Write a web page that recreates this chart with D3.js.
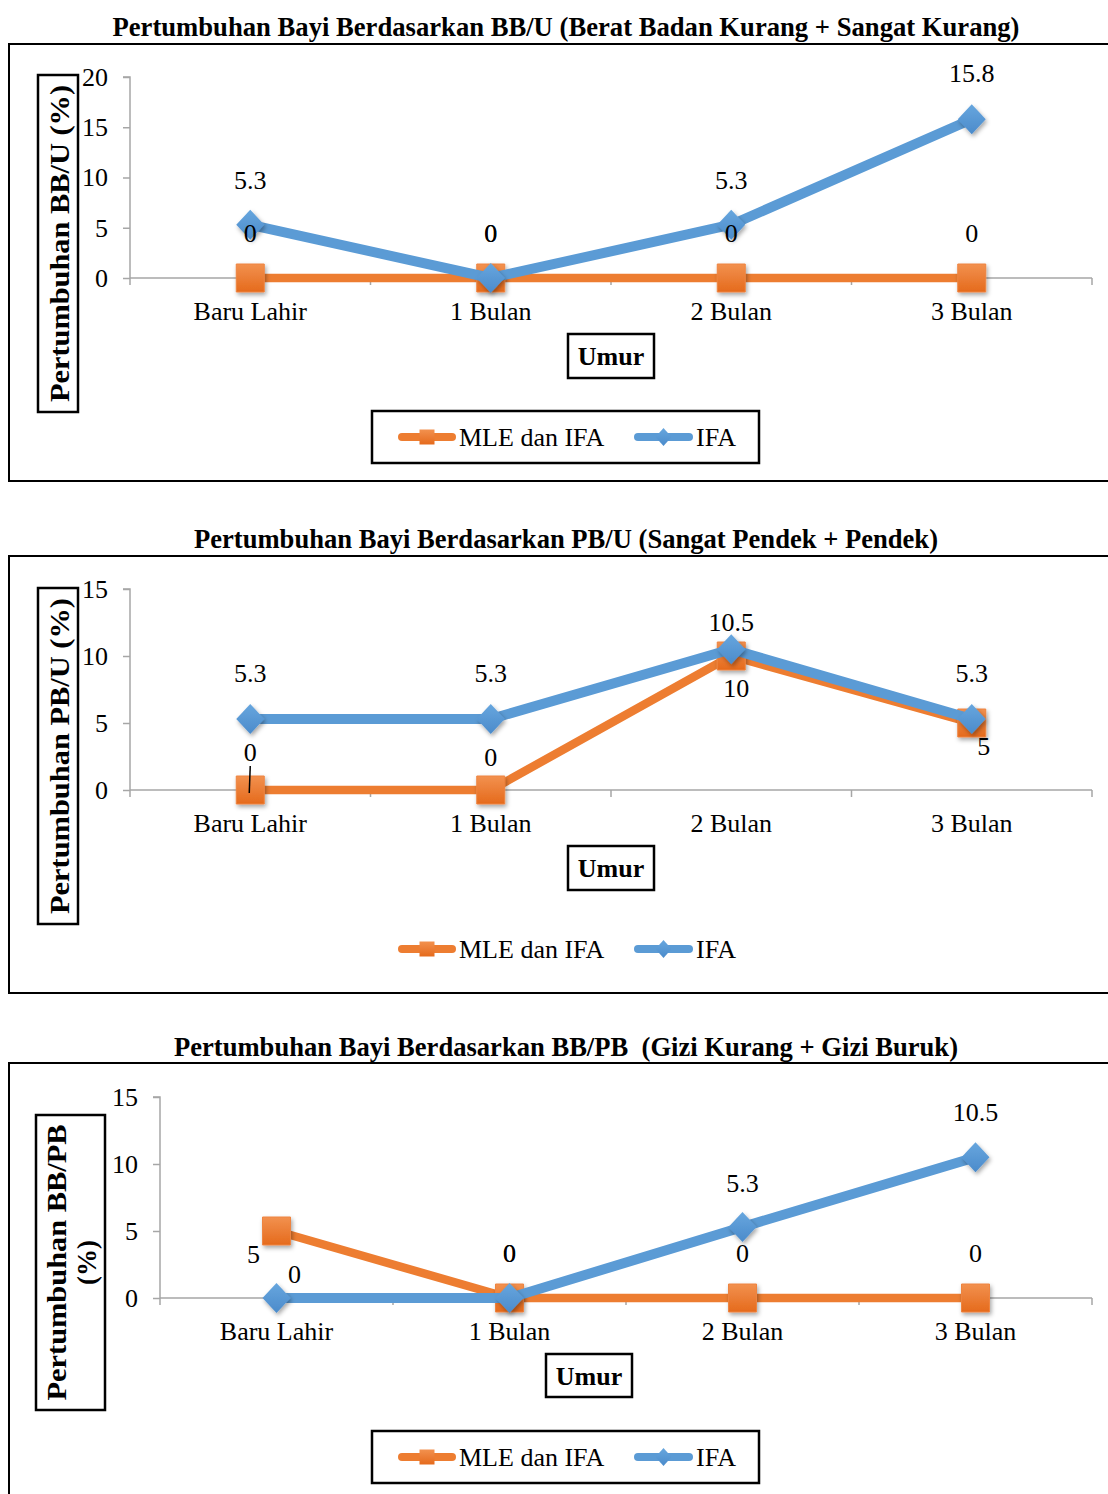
<!DOCTYPE html>
<html><head><meta charset="utf-8">
<script src="https://cdn.jsdelivr.net/npm/d3@7/dist/d3.min.js"></script>
<style>html,body{margin:0;padding:0;background:#fff;}svg{display:block;}</style>
</head><body>
<svg id="chart" width="1108" height="1494"></svg>
<script>
// ---------- DATA ----------
const categories = ["Baru Lahir", "1 Bulan", "2 Bulan", "3 Bulan"];
const seriesNames = ["MLE dan IFA", "IFA"];
const bbuMle = [0, 0, 0, 0];
const bbuIfa = [5.3, 0, 5.3, 15.8];
const pbuMle = [0, 0, 10, 5];
const pbuIfa = [5.3, 5.3, 10.5, 5.3];
const bbpbMle = [5, 0, 0, 0];
const bbpbIfa = [0, 0, 5.3, 10.5];
const yTicksBbu = [0, 5, 10, 15, 20];
const yTicksPbu = [0, 5, 10, 15];
const yTicksBbpb = [0, 5, 10, 15];
const titles = [
  "Pertumbuhan Bayi Berdasarkan BB/U (Berat Badan Kurang + Sangat Kurang)",
  "Pertumbuhan Bayi Berdasarkan PB/U (Sangat Pendek + Pendek)",
  "Pertumbuhan Bayi Berdasarkan BB/PB  (Gizi Kurang + Gizi Buruk)"
];
const yTitles = [["Pertumbuhan BB/U (%)"], ["Pertumbuhan PB/U (%)"], ["Pertumbuhan BB/PB", "(%)"]];
const xTitle = "Umur";

// ---------- LAYOUT / STYLE ----------
const ORANGE = "#ED7D31", BLUE = "#5B9BD5";
const FONT = "'Liberation Serif','Times New Roman',serif";
const layouts = [
  { mle: bbuMle, ifa: bbuIfa, ticks: yTicksBbu, ymax: 20,
    frame: [9, 44, 481], titleY: 27, titleLen: 907, titleX: 566,
    plot: { x0: 130, x1: 1092, yT: 77, yB: 278 }, yTickX: 108,
    yBox: [38, 75, 78, 412], yTitleLen: [317], yTitleX: [60],
    umurBox: [568, 334, 654, 378], legY: 437, legBox: [372, 411, 759, 463],
    offMle: [[0,-45],[0,-45],[0,-45],[0,-45]],
    offIfa: [[0,-45],[0,-45],[0,-45],[0,-46]], leader: null },
  { mle: pbuMle, ifa: pbuIfa, ticks: yTicksPbu, ymax: 15,
    frame: [9, 556, 993], titleY: 539, titleLen: 744, titleX: 566,
    plot: { x0: 130, x1: 1092, yT: 589, yB: 790 }, yTickX: 108,
    yBox: [38, 588, 78, 924], yTitleLen: [316], yTitleX: [60],
    umurBox: [568, 846, 654, 890], legY: 949, legBox: null,
    offMle: [[0,-38],[0,-33],[5,32],[12,23]],
    offIfa: [[0,-46],[0,-46],[0,-27],[0,-46]], leader: 0 },
  { mle: bbpbMle, ifa: bbpbIfa, ticks: yTicksBbpb, ymax: 15,
    frame: [9, 1063, 1520], titleY: 1047, titleLen: 784, titleX: 566,
    plot: { x0: 160, x1: 1092, yT: 1097, yB: 1298 }, yTickX: 138,
    yBox: [36, 1115, 105, 1410], yTitleLen: [276, 0], yTitleX: [57, 87],
    umurBox: [546, 1354, 632, 1397], legY: 1457, legBox: [372, 1431, 759, 1483],
    offMle: [[-23,23],[0,-45],[0,-45],[0,-45]],
    offIfa: [[18,-24],[0,-45],[0,-44],[0,-45]], leader: null }
];

const svg = d3.select("#chart");
const defs = svg.append("defs");
const og = defs.append("linearGradient").attr("id","gOr").attr("x1",0).attr("y1",0).attr("x2",0).attr("y2",1);
og.append("stop").attr("offset","0%").attr("stop-color","#F2914F");
og.append("stop").attr("offset","100%").attr("stop-color","#E56A1C");
const bg = defs.append("linearGradient").attr("id","gBl").attr("x1",0).attr("y1",0).attr("x2",0).attr("y2",1);
bg.append("stop").attr("offset","0%").attr("stop-color","#67A6DE");
bg.append("stop").attr("offset","100%").attr("stop-color","#4B8BCB");
const sh = defs.append("filter").attr("id","shadow").attr("x","-50%").attr("y","-50%").attr("width","200%").attr("height","200%");
sh.append("feDropShadow").attr("dx",1.5).attr("dy",2.5).attr("stdDeviation",2).attr("flood-color","#000").attr("flood-opacity",0.35);

const squarePath = d3.symbol().type(d3.symbolSquare).size(28*28);
function diamondPath(w, h){ return `M0,${-h}L${w},0L0,${h}L${-w},0Z`; }

layouts.forEach((L, ci) => {
  const g = svg.append("g");
  g.append("rect").attr("x", L.frame[0]).attr("y", L.frame[1])
    .attr("width", 1200).attr("height", L.frame[2]-L.frame[1])
    .attr("fill","none").attr("stroke","#000").attr("stroke-width",2);
  g.append("text").attr("x", L.titleX).attr("y", L.titleY).attr("dy","0.35em")
    .attr("text-anchor","middle").attr("font-family",FONT).attr("font-weight","bold")
    .attr("font-size",27).attr("textLength",L.titleLen).attr("lengthAdjust","spacingAndGlyphs")
    .style("white-space","pre")
    .text(titles[ci]);

  const x = d3.scaleBand().domain(categories).range([L.plot.x0, L.plot.x1]).padding(0);
  const y = d3.scaleLinear().domain([0, L.ymax]).range([L.plot.yB, L.plot.yT]);
  const cx = c => x(c) + x.bandwidth()/2;

  const ya = g.append("g").attr("transform",`translate(${L.plot.x0},0)`)
    .call(d3.axisLeft(y).tickValues(L.ticks).tickSize(7).tickPadding(L.plot.x0-L.yTickX-7).tickFormat(d3.format("d")));
  ya.select(".domain").attr("stroke","#A6A6A6").attr("stroke-width",1.5).attr("d",`M-7,${L.plot.yT}H0V${L.plot.yB}`);
  ya.selectAll(".tick line").attr("stroke","#A6A6A6").attr("stroke-width",1.5);
  ya.selectAll(".tick text").attr("font-family",FONT).attr("font-size",26).attr("fill","#000");

  const xa = g.append("g").attr("transform",`translate(0,${L.plot.yB})`)
    .call(d3.axisBottom(x).tickSize(0).tickPadding(24));
  xa.select(".domain").attr("stroke","#A6A6A6").attr("stroke-width",1.5).attr("d",`M${L.plot.x0},0H${L.plot.x1}`);
  xa.selectAll(".tick text").attr("font-family",FONT).attr("font-size",26).attr("fill","#000");
  const bounds = categories.map(c => x(c)).concat([L.plot.x1]);
  g.append("g").selectAll("line").data(bounds).join("line")
    .attr("x1",d=>d).attr("x2",d=>d).attr("y1",L.plot.yB).attr("y2",L.plot.yB+7)
    .attr("stroke","#A6A6A6").attr("stroke-width",1.5);

  const yb = L.yBox;
  g.append("rect").attr("x",yb[0]).attr("y",yb[1]).attr("width",yb[2]-yb[0]).attr("height",yb[3]-yb[1])
    .attr("fill","none").attr("stroke","#000").attr("stroke-width",2.5);
  const ymid = (yb[1]+yb[3])/2;
  yTitles[ci].forEach((t, i) => {
    const tx = g.append("text").attr("transform",`translate(${L.yTitleX[i]},${ymid}) rotate(-90)`)
      .attr("dy","0.35em").attr("text-anchor","middle").attr("font-family",FONT)
      .attr("font-weight","bold").attr("font-size",27).text(t);
    if (L.yTitleLen[i]) tx.attr("textLength",L.yTitleLen[i]).attr("lengthAdjust","spacingAndGlyphs");
  });

  const ub = L.umurBox;
  g.append("rect").attr("x",ub[0]).attr("y",ub[1]).attr("width",ub[2]-ub[0]).attr("height",ub[3]-ub[1])
    .attr("fill","none").attr("stroke","#000").attr("stroke-width",2.5);
  g.append("text").attr("x",(ub[0]+ub[2])/2).attr("y",(ub[1]+ub[3])/2).attr("dy","0.35em")
    .attr("text-anchor","middle").attr("font-family",FONT).attr("font-weight","bold").attr("font-size",26).text(xTitle);

  const line = d3.line().x((d,i)=>cx(categories[i])).y(d=>y(d));
  g.append("path").datum(L.mle).attr("d",line).attr("fill","none").attr("stroke",ORANGE)
    .attr("stroke-width",8.5).attr("stroke-linejoin","round");
  g.append("g").selectAll("path").data(L.mle).join("path")
    .attr("d",squarePath).attr("transform",(d,i)=>`translate(${cx(categories[i])},${y(d)})`)
    .attr("fill","url(#gOr)").attr("stroke","#EE8440").attr("stroke-width",1).attr("filter","url(#shadow)");
  g.append("path").datum(L.ifa).attr("d",line).attr("fill","none").attr("stroke",BLUE)
    .attr("stroke-width",10).attr("stroke-linejoin","round");
  g.append("g").selectAll("path").data(L.ifa).join("path")
    .attr("d",diamondPath(14,15)).attr("transform",(d,i)=>`translate(${cx(categories[i])},${y(d)})`)
    .attr("fill","url(#gBl)").attr("filter","url(#shadow)");

  const lab = (vals, off) => g.append("g").selectAll("text").data(vals).join("text")
    .attr("x",(d,i)=>cx(categories[i])+off[i][0]).attr("y",(d,i)=>y(d)+off[i][1]).attr("dy","0.35em")
    .attr("text-anchor","middle").attr("font-family",FONT).attr("font-size",26).attr("fill","#000")
    .text(d=>String(d));
  lab(L.mle, L.offMle);
  lab(L.ifa, L.offIfa);
  if (L.leader !== null) {
    const i = L.leader, px = cx(categories[i]);
    g.append("line").attr("x1",px).attr("x2",px-1).attr("y1",y(L.mle[i])+L.offMle[i][1]+14).attr("y2",y(L.mle[i])+3)
      .attr("stroke","#000").attr("stroke-width",1.5);
  }

  if (L.legBox) {
    const lb = L.legBox;
    g.append("rect").attr("x",lb[0]).attr("y",lb[1]).attr("width",lb[2]-lb[0]).attr("height",lb[3]-lb[1])
      .attr("fill","none").attr("stroke","#000").attr("stroke-width",2.5);
  }
  const legItems = [
    { name: seriesNames[0], x0: 398, x1: 456, tx: 459, color: ORANGE, w: 8, mark: "sq" },
    { name: seriesNames[1], x0: 634, x1: 693, tx: 696, color: BLUE, w: 8, mark: "di" }
  ];
  legItems.forEach(it => {
    g.append("line").attr("x1",it.x0+4).attr("x2",it.x1-4).attr("y1",L.legY).attr("y2",L.legY)
      .attr("stroke",it.color).attr("stroke-width",it.w).attr("stroke-linecap","round");
    const mx = (it.x0+it.x1)/2;
    if (it.mark === "sq") {
      g.append("path").attr("d",d3.symbol().type(d3.symbolSquare).size(15*15))
        .attr("transform",`translate(${mx},${L.legY})`).attr("fill","url(#gOr)");
    } else {
      g.append("path").attr("d",diamondPath(8,9)).attr("transform",`translate(${mx},${L.legY})`).attr("fill","url(#gBl)");
    }
    g.append("text").attr("x",it.tx).attr("y",L.legY).attr("dy","0.35em").attr("font-family",FONT)
      .attr("font-size",26).attr("fill","#000").text(it.name);
  });
});
</script>
</body></html>
